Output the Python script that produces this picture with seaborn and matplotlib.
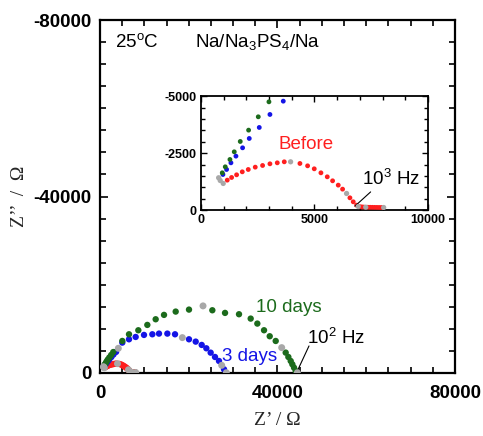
import matplotlib
matplotlib.use("Agg")
import pandas as pd
import matplotlib.pyplot as plt
import seaborn as sns
from matplotlib.ticker import MultipleLocator

# Impedance data (Z' and Z'' in ohm)
before_zre = [982, 1160, 1351, 1571, 1821, 2085, 2393, 2716, 3040, 3363, 3671, 3950,
              4361, 4699, 4992, 5286, 5565, 5800, 6049, 6240, 6416, 6563, 6710, 6857,
              6930, 7010, 7090, 7170, 7260, 7350, 7450, 7550, 7650, 7750, 7850, 7950, 8050]
before_zim = [-1171, -1316, -1433, -1550, -1681, -1783, -1886, -1959, -2032, -2076, -2120, -2120,
              -2047, -1944, -1813, -1637, -1462, -1287, -1097, -921, -731, -541, -366, -219,
              -160, -150, -140, -135, -130, -128, -126, -124, -122, -120, -118, -116, -115]
before_gray = [0, 11, 20, 24, 28, 36]

days3_zre = [850, 969, 1130, 1322, 1542, 1835, 2129, 2570, 3040, 3627, 5030, 6540, 8040,
             9920, 11800, 13300, 15180, 16910, 18560, 20060, 21570, 22920, 23970, 24940,
             25920, 26820, 27430, 27950, 28470]
days3_zim = [-1300, -1564, -1784, -2076, -2369, -2734, -3144, -3626, -4196, -4780, -6886, -7640, -8170,
             -8630, -8775, -8930, -8930, -8775, -8020, -7640, -7110, -6360, -5600, -4610,
             -3630, -2724, -1740, -833, -60]
days3_gray = [0, 18, 26, 28]

days10_zre = [780, 940, 1072, 1278, 1468, 1732, 2100, 2526, 2996, 4130, 5030, 6540, 8640,
              10670, 12550, 14430, 17060, 20060, 23220, 25320, 28180, 31330, 33960, 35460,
              36970, 38250, 39600, 40950, 41850, 42450, 42980, 43350, 43730, 44110, 44480]
days10_zim = [-1420, -1637, -1900, -2222, -2558, -3012, -3509, -4094, -4751, -5600, -7264, -8777, -9685,
              -10900, -12180, -13170, -13920, -14370, -15210, -14220, -13620, -13320, -12330, -11200,
              -9690, -8330, -7260, -5750, -4620, -3630, -2720, -1970, -1210, -450, -60]
days10_gray = [0, 9, 18, 27, 34]

RED = "#ff1f1f"
BLUE = "#1414e6"
GREEN = "#1c6b1c"
GRAY = "#a8a8a8"


def make_frame(zre, zim, gray_idx, name):
    df = pd.DataFrame({"zre": zre, "zim": zim})
    df["series"] = name
    df["decade"] = [i in gray_idx for i in range(len(zre))]
    return df


sns.set_style("ticks", {"axes.edgecolor": "black", "xtick.color": "black",
                        "ytick.color": "black", "text.color": "black"})
plt.rcParams["font.family"] = ["Liberation Sans", "DejaVu Sans"]
plt.rcParams["axes.unicode_minus"] = False
plt.rcParams["mathtext.fontset"] = "custom"
plt.rcParams["mathtext.rm"] = "Liberation Sans"
plt.rcParams["mathtext.it"] = "Liberation Sans:italic"

frames = [make_frame(before_zre, before_zim, before_gray, "before"),
          make_frame(days3_zre, days3_zim, days3_gray, "3 days"),
          make_frame(days10_zre, days10_zim, days10_gray, "10 days")]
colors = {"before": RED, "3 days": BLUE, "10 days": GREEN}

fig = plt.figure(figsize=(4.83, 4.36), dpi=100)
ax = fig.add_axes([0.207, 0.1445, 0.735, 0.8095])
ins = fig.add_axes([0.416, 0.518, 0.470, 0.2615])


def draw(axis, size):
    for df in frames:
        main = df[~df["decade"]]
        dec = df[df["decade"]]
        sns.scatterplot(data=main, x="zre", y="zim", color=colors[df["series"].iloc[0]],
                        s=size, edgecolor="none", ax=axis, legend=False, zorder=3)
        sns.scatterplot(data=dec, x="zre", y="zim", color=GRAY,
                        s=size * 1.2, edgecolor="none", ax=axis, legend=False, zorder=4)


draw(ax, 21)
draw(ins, 12)

# main axes styling
ax.set_xlim(0, 80000)
ax.set_ylim(0, -80000)
ax.set_xticks([0, 40000, 80000])
ax.set_yticks([-80000, -40000, 0])
ax.xaxis.set_minor_locator(MultipleLocator(5000))
ax.yaxis.set_minor_locator(MultipleLocator(5000))
ax.tick_params(which="both", direction="in", top=True, right=True, width=1.2, colors="black")
ax.tick_params(which="major", length=6, labelsize=13.5)
ax.tick_params(axis="x", which="major", pad=9)
ax.tick_params(axis="y", which="major", pad=6)
ax.tick_params(which="minor", length=4)
for lab in ax.get_xticklabels() + ax.get_yticklabels():
    lab.set_fontweight("bold")
for sp in ax.spines.values():
    sp.set_linewidth(1.6)
    sp.set_color("black")
ax.set_xlabel("Z\u2019 / \u03a9", family="Liberation Serif", fontsize=14, labelpad=7)
ax.set_ylabel("Z\u2019\u2019  /  \u03a9", family="Liberation Serif", fontsize=14, labelpad=4)

ax.text(0.042, 0.937, "25$^{\\mathrm{o}}$C", transform=ax.transAxes, fontsize=13.5, va="center")
ax.text(0.268, 0.937, "Na/Na$_3$PS$_4$/Na", transform=ax.transAxes, fontsize=13.5, va="center")
ax.text(42600, -14750, "10 days", color=GREEN, fontsize=13.5, ha="center", va="center")
ax.text(33800, -3630, "3 days", color=BLUE, fontsize=13.5, ha="center", va="center")
ax.text(46600, -7950, "10$^2$ Hz", fontsize=13.5, va="center", ha="left")
ax.annotate("", xy=(44470, -450), xytext=(47100, -6130),
            arrowprops=dict(arrowstyle="-", color="black", lw=0.8, shrinkA=0, shrinkB=0))

# inset styling
ins.set_xlim(0, 10000)
ins.set_ylim(0, -5000)
ins.set_xticks([0, 5000, 10000])
ins.set_yticks([-5000, -2500, 0])
ins.xaxis.set_minor_locator(MultipleLocator(1000))
ins.yaxis.set_minor_locator(MultipleLocator(500))
ins.tick_params(which="both", direction="in", top=True, right=True, width=1.0, colors="black")
ins.tick_params(which="major", length=4, labelsize=9, pad=3)
ins.tick_params(which="minor", length=3)
for lab in ins.get_xticklabels() + ins.get_yticklabels():
    lab.set_fontweight("bold")
for sp in ins.spines.values():
    sp.set_linewidth(1.3)
    sp.set_color("black")
ins.set_xlabel("")
ins.set_ylabel("")
ins.text(4625, -2895, "Before", color=RED, fontsize=13.5, ha="center", va="center")
ins.text(7090, -1360, "10$^3$ Hz", fontsize=13.5, va="center", ha="left")
ins.annotate("", xy=(6784, -175), xytext=(7475, -800),
             arrowprops=dict(arrowstyle="-", color="black", lw=0.8, shrinkA=0, shrinkB=0))

fig.savefig("out.png", dpi=100)
